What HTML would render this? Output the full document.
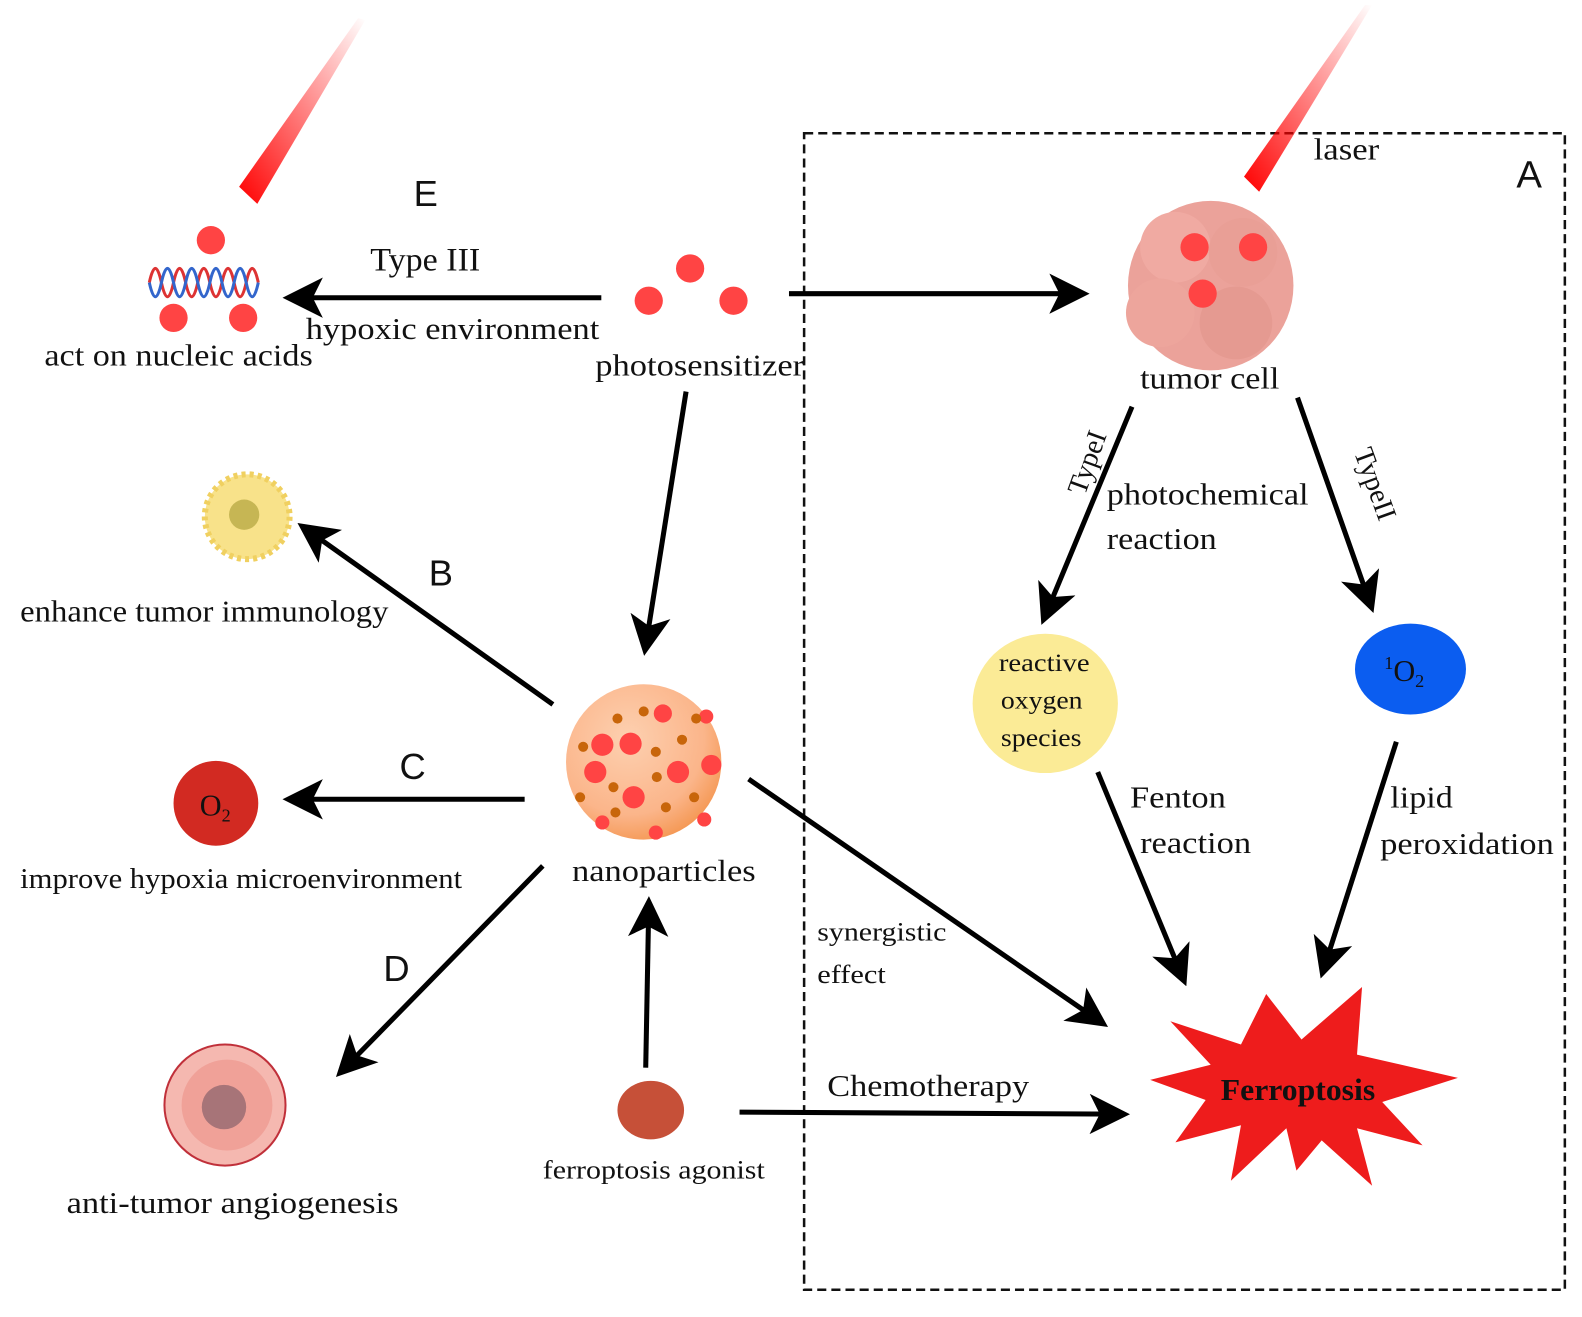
<!DOCTYPE html>
<html><head><meta charset="utf-8"><style>
html,body{margin:0;padding:0;background:#fff;}
svg{display:block;}
text{font-family:"Liberation Serif",serif;fill:#111;}
.s{font-family:"Liberation Sans",sans-serif;}
</style></head><body>
<svg width="1582" height="1317" viewBox="0 0 1568 1305" preserveAspectRatio="none" xmlns="http://www.w3.org/2000/svg">
<defs>
<marker id="ah" markerWidth="8" markerHeight="8" refX="6" refY="4" orient="auto" markerUnits="strokeWidth">
<path d="M0,0 L8,4 L0,8 L2,4 z" fill="#000"/></marker>
<linearGradient id="laser" x1="0" y1="1" x2="1" y2="0">
<stop offset="0" stop-color="#f00"/><stop offset="1" stop-color="#f00" stop-opacity="0"/></linearGradient>
<radialGradient id="np" cx="0.4" cy="0.35" r="0.7"><stop offset="0" stop-color="#fdd0b0"/><stop offset="0.7" stop-color="#fbb58a"/><stop offset="1" stop-color="#f49650"/></radialGradient>
</defs>
<rect x="797" y="132" width="754" height="1146" fill="none" stroke="#111" stroke-width="2.5" stroke-dasharray="9,5"/>
<text x="1503" y="186" class="s" font-size="38">A</text>
<polygon points="1233,175 1248,190 1360,5 1353,5" fill="url(#laser)"/>
<polygon points="237,185 255,202 362,20 355,18" fill="url(#laser)"/>
<text x="1302" y="158" font-size="30" textLength="65" lengthAdjust="spacingAndGlyphs">laser</text>
<g>
<ellipse cx="1200" cy="283" rx="82" ry="84" fill="#eba29a"/>
<circle cx="1165" cy="245" r="35" fill="#f0aaa2"/><circle cx="1232" cy="250" r="34" fill="#e99f96"/>
<circle cx="1150" cy="310" r="34" fill="#eda59c"/><circle cx="1225" cy="320" r="36" fill="#e59a91"/>
<circle cx="1184" cy="245" r="14" fill="#f44"/><circle cx="1242" cy="245" r="14" fill="#f44"/><circle cx="1192" cy="291" r="14" fill="#f44"/>
</g>
<text x="1130" y="385" font-size="30" textLength="138" lengthAdjust="spacingAndGlyphs">tumor cell</text>
<circle cx="684" cy="266" r="14" fill="#f44"/><circle cx="643" cy="298" r="14" fill="#f44"/><circle cx="727" cy="298" r="14" fill="#f44"/>
<text x="590" y="372" font-size="30" textLength="207" lengthAdjust="spacingAndGlyphs">photosensitizer</text>
<path d="M148,280 q6,-28 12,0 t12,0 t12,0 t12,0 t12,0 t12,0 t12,0 t12,0 t12,0" fill="none" stroke="#d33" stroke-width="3"/>
<path d="M148,280 q6,28 12,0 t12,0 t12,0 t12,0 t12,0 t12,0 t12,0 t12,0 t12,0" fill="none" stroke="#36c" stroke-width="3"/>
<circle cx="209" cy="238" r="14" fill="#f44"/><circle cx="172" cy="315" r="14" fill="#f44"/><circle cx="241" cy="315" r="14" fill="#f44"/>
<text x="44" y="362" font-size="30" textLength="266" lengthAdjust="spacingAndGlyphs">act on nucleic acids</text>
<text x="410" y="204" class="s" font-size="36">E</text>
<text x="367" y="268" font-size="32" textLength="109" lengthAdjust="spacingAndGlyphs">Type III</text>
<text x="303" y="336" font-size="30" textLength="291" lengthAdjust="spacingAndGlyphs">hypoxic environment</text>
<g stroke="#000" stroke-width="5" fill="none" marker-end="url(#ah)">
<line x1="596" y1="295" x2="290" y2="295"/>
<line x1="782" y1="291" x2="1070" y2="291"/>
<line x1="680" y1="388" x2="640" y2="640"/>
<line x1="1122" y1="403" x2="1036" y2="610"/>
<line x1="1286" y1="394" x2="1358" y2="598"/>
<line x1="1088" y1="765" x2="1172" y2="968"/>
<line x1="1384" y1="735" x2="1312" y2="960"/>
<line x1="548" y1="698" x2="303" y2="524"/>
<line x1="520" y1="792" x2="290" y2="792"/>
<line x1="538" y1="858" x2="340" y2="1060"/>
<line x1="640" y1="1058" x2="643" y2="898"/>
<line x1="742" y1="772" x2="1090" y2="1012"/>
<line x1="733" y1="1102" x2="1110" y2="1104"/>
</g>
<text x="1038" y="501" font-size="28" transform="rotate(-70 1050 470)">TypeI</text>
<text x="1322" y="476" font-size="28" transform="rotate(70 1352 476)">TypeII</text>
<text x="1097" y="500" font-size="30" textLength="200" lengthAdjust="spacingAndGlyphs">photochemical</text>
<text x="1097" y="544" font-size="30" textLength="109" lengthAdjust="spacingAndGlyphs">reaction</text>
<ellipse cx="1036" cy="697" rx="72" ry="69" fill="#fbeb96"/>
<text x="990" y="665" font-size="25" textLength="90" lengthAdjust="spacingAndGlyphs">reactive</text>
<text x="992" y="702" font-size="25" textLength="81" lengthAdjust="spacingAndGlyphs">oxygen</text>
<text x="992" y="739" font-size="25" textLength="80" lengthAdjust="spacingAndGlyphs">species</text>
<ellipse cx="1398" cy="663" rx="55" ry="45" fill="#0b5df0"/>
<text x="1372" y="675" font-size="30"><tspan font-size="18" dy="-12">1</tspan><tspan dy="12">O</tspan><tspan font-size="18" dy="6">2</tspan></text>
<text x="1120" y="800" font-size="30" textLength="95" lengthAdjust="spacingAndGlyphs">Fenton</text>
<text x="1130" y="845" font-size="30" textLength="110" lengthAdjust="spacingAndGlyphs">reaction</text>
<text x="1378" y="800" font-size="30" textLength="62" lengthAdjust="spacingAndGlyphs">lipid</text>
<text x="1368" y="846" font-size="30" textLength="172" lengthAdjust="spacingAndGlyphs">peroxidation</text>
<polygon points="1160,1012 1230,1035 1255,985 1290,1030 1350,978 1345,1045 1445,1068 1370,1092 1410,1135 1345,1118 1360,1175 1310,1130 1285,1160 1275,1118 1220,1170 1230,1115 1165,1132 1195,1090 1140,1070 1200,1055" fill="#ee1c1c"/>
<text x="1210" y="1090" font-size="30" font-weight="bold" fill="#222" textLength="153" lengthAdjust="spacingAndGlyphs">Ferroptosis</text>
<circle cx="245" cy="512" r="42" fill="#f8e28a" stroke="#f0d060" stroke-width="6" stroke-dasharray="4,4"/>
<circle cx="242" cy="510" r="15" fill="#c6b654"/>
<text x="20" y="616" font-size="30" textLength="365" lengthAdjust="spacingAndGlyphs">enhance tumor immunology</text>
<text x="425" y="580" class="s" font-size="36">B</text>
<circle cx="214" cy="796" r="42" fill="#d22a22"/>
<text x="198" y="808" font-size="30">O<tspan font-size="18" dy="6">2</tspan></text>
<text x="20" y="880" font-size="28" textLength="438" lengthAdjust="spacingAndGlyphs">improve hypoxia microenvironment</text>
<text x="396" y="772" class="s" font-size="36">C</text>
<text x="380" y="972" class="s" font-size="36">D</text>
<circle cx="223" cy="1095" r="60" fill="#f5b8b0" stroke="#c0303a" stroke-width="2"/>
<circle cx="225" cy="1095" r="45" fill="#f0a198"/>
<circle cx="222" cy="1097" r="22" fill="#a77478"/>
<text x="66" y="1202" font-size="30" textLength="329" lengthAdjust="spacingAndGlyphs">anti-tumor angiogenesis</text>
<circle cx="638" cy="755" r="77" fill="url(#np)"/>
<g fill="#f44"><circle cx="657" cy="707" r="9"/><circle cx="597" cy="738" r="11"/><circle cx="625" cy="737" r="11"/><circle cx="672" cy="765" r="11"/><circle cx="590" cy="765" r="11"/><circle cx="628" cy="790" r="11"/><circle cx="705" cy="758" r="10"/><circle cx="597" cy="815" r="7"/><circle cx="650" cy="825" r="7"/><circle cx="698" cy="812" r="7"/><circle cx="700" cy="710" r="7"/></g>
<g fill="#c8650a"><circle cx="612" cy="712" r="5"/><circle cx="638" cy="705" r="5"/><circle cx="650" cy="745" r="5"/><circle cx="608" cy="780" r="5"/><circle cx="651" cy="770" r="5"/><circle cx="676" cy="733" r="5"/><circle cx="688" cy="790" r="5"/><circle cx="660" cy="800" r="5"/><circle cx="610" cy="805" r="5"/><circle cx="575" cy="790" r="5"/><circle cx="578" cy="740" r="5"/><circle cx="690" cy="712" r="5"/></g>
<text x="567" y="873" font-size="30" textLength="182" lengthAdjust="spacingAndGlyphs">nanoparticles</text>
<text x="810" y="932" font-size="26" textLength="128" lengthAdjust="spacingAndGlyphs">synergistic</text>
<text x="810" y="974" font-size="26" textLength="68" lengthAdjust="spacingAndGlyphs">effect</text>
<ellipse cx="645" cy="1100" rx="33" ry="29" fill="#c65038"/>
<text x="538" y="1168" font-size="26" textLength="220" lengthAdjust="spacingAndGlyphs">ferroptosis agonist</text>
<text x="820" y="1086" font-size="30" textLength="200" lengthAdjust="spacingAndGlyphs">Chemotherapy</text>
</svg>
</body></html>
